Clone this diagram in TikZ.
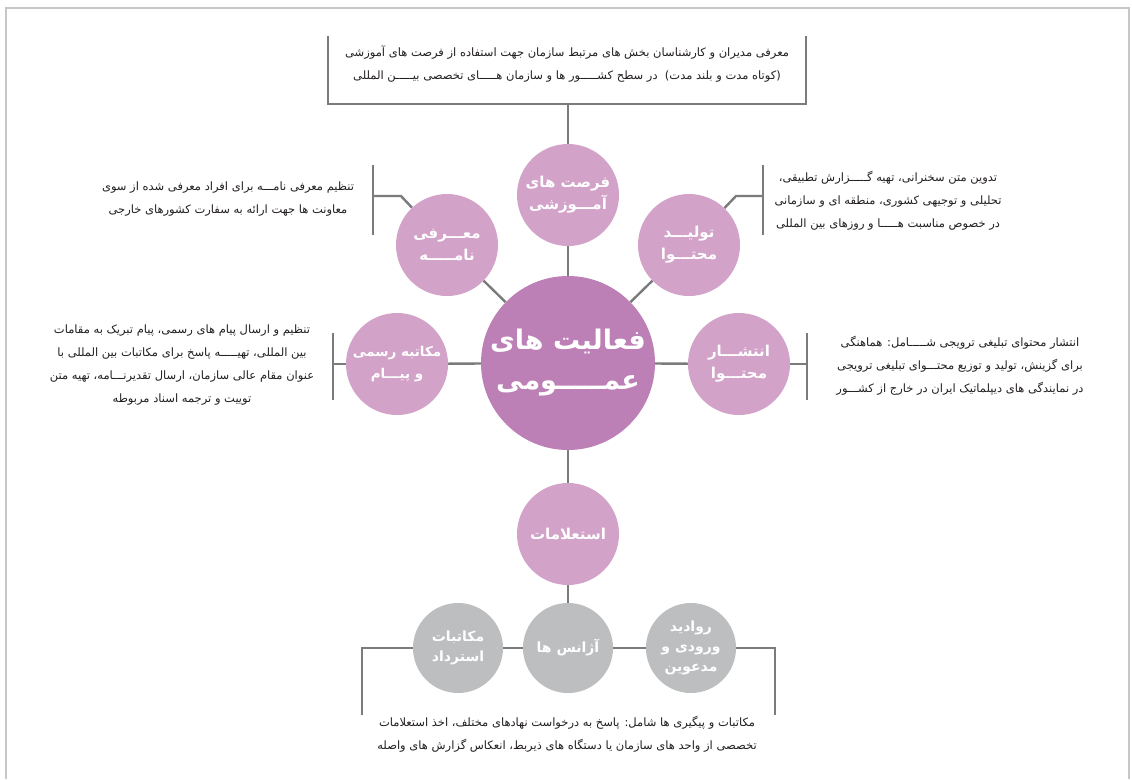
\documentclass[tikz,border=0pt]{standalone}
\usepackage{fontspec}
\newfontfamily\arabicfont[Script=Arabic]{DejaVu Sans}
\TeXXeTstate=1
\newcommand{\fa}[1]{{\arabicfont\beginR #1\endR}}

\definecolor{hubpink}{HTML}{BC80B6}
\definecolor{subpink}{HTML}{D3A2C9}
\definecolor{discgrey}{HTML}{BDBEC0}
\definecolor{linkgrey}{HTML}{7B7B7B}
\definecolor{framegrey}{HTML}{C6C6C6}
\definecolor{ink}{HTML}{231F20}

\tikzset{
  disc/.style={circle, inner sep=0pt, text=white, align=center},
  hubdisc/.style={disc, fill=hubpink, minimum size=174pt, font=\fontsize{27}{40}\selectfont\bfseries},
  subdisc/.style={disc, fill=subpink, minimum size=102pt, font=\fontsize{15}{22}\selectfont\bfseries},
  graydisc/.style={disc, fill=discgrey, minimum size=90pt, font=\fontsize{14}{20}\selectfont\bfseries},
  link/.style={draw=linkgrey, line width=2.4pt},
  note/.style={text=ink, align=center, inner sep=0pt, font=\fontsize{11.5}{23}\selectfont},
}

\begin{document}
\begin{tikzpicture}[x=1pt,y=-1pt]
  \useasboundingbox (0,0) rectangle (1132,779);
  % frame
  \draw[framegrey, line width=2pt] (6,779) -- (6,8) -- (1129,8) -- (1129,779);

  % discs
  \node[hubdisc] (hub) at (568,363) {\fa{فعالیت های}\\\fa{عمـــــومی}};
  \node[subdisc] (edu) at (568,195) {\fa{فرصت های}\\\fa{آمـــوزشی}};
  \node[subdisc] (intro) at (447,245) {\fa{معـــرفی}\\\fa{نامـــــه}};
  \node[subdisc] (prod) at (689,245) {\fa{تولیـــد}\\\fa{محتـــوا}};
  \node[subdisc, font=\fontsize{13.5}{22}\selectfont\bfseries] (letter) at (397,364) {\fa{مکاتبه رسمی}\\\fa{و پیـــام}};
  \node[subdisc] (publ) at (739,364) {\fa{انتشـــار}\\\fa{محتـــوا}};
  \node[subdisc] (inq) at (568,534) {\fa{استعلامات}};
  \node[graydisc] (refund) at (458,648) {\fa{مکاتبات}\\\fa{استرداد}};
  \node[graydisc] (agency) at (568,648) {\fa{آژانس ها}};
  \node[graydisc] (visa) at (691,648) {\fa{روادید}\\\fa{ورودی و}\\\fa{مدعوین}};

  % bracket ends
  \coordinate (eduL) at (328,36);
  \coordinate (eduBL) at (328,104);
  \coordinate (eduBR) at (806,104);
  \coordinate (eduR) at (806,36);
  \coordinate (eduM) at (568,104);
  \coordinate (introT) at (373,165);
  \coordinate (introB) at (373,235);
  \coordinate (introM) at (373,196);
  \coordinate (introK) at (401,196);
  \coordinate (prodT) at (763,165);
  \coordinate (prodB) at (763,235);
  \coordinate (prodM) at (763,196);
  \coordinate (prodK) at (736,196);
  \coordinate (letterT) at (333,333);
  \coordinate (letterB) at (333,400);
  \coordinate (letterM) at (333,364);
  \coordinate (publT) at (807,333);
  \coordinate (publB) at (807,400);
  \coordinate (publM) at (807,364);
  \coordinate (rowL) at (362,648);
  \coordinate (rowLB) at (362,715);
  \coordinate (rowR) at (775,648);
  \coordinate (rowRB) at (775,715);

  % connectors
  \draw[link] (eduL) -- (eduBL) -- (eduBR) -- (eduR);
  \draw[link] (eduM) -- (edu);
  \draw[link] (edu) -- (hub);
  \draw[link] (introT) -- (introB);
  \draw[link] (introM) -- (introK) -- (intro);
  \draw[link] (intro) -- (hub);
  \draw[link] (prodT) -- (prodB);
  \draw[link] (prodM) -- (prodK) -- (prod);
  \draw[link] (prod) -- (hub);
  \draw[link] (letterT) -- (letterB);
  \draw[link] (letterM) -- (letter);
  \draw[link] (letter) -- (hub);
  \draw[link] (publT) -- (publB);
  \draw[link] (publM) -- (publ);
  \draw[link] (publ) -- (hub);
  \draw[link] (hub) -- (inq);
  \draw[link] (inq) -- (agency);
  \draw[link] (rowLB) -- (rowL) -- (refund);
  \draw[link] (refund) -- (agency);
  \draw[link] (agency) -- (visa);
  \draw[link] (visa) -- (rowR) -- (rowRB);

  % notes
  \node[note] (eduText) at (567,64) {\fa{معرفی مدیران و کارشناسان بخش های مرتبط سازمان جهت استفاده از فرصت های آموزشی}\\
    \fa{(کوتاه مدت و بلند مدت)\ \ در سطح کشـــــور ها و سازمان هـــــای تخصصی بیـــــن المللی}};
  \node[note] (introText) at (228,199) {\fa{تنظیم معرفی نامـــه برای افراد معرفی شده از سوی}\\
    \fa{معاونت ها جهت ارائه به سفارت کشورهای خارجی}};
  \node[note] (prodText) at (888,201) {\fa{تدوین متن سخنرانی، تهیه گـــــزارش تطبیقی،}\\
    \fa{تحلیلی و توجیهی کشوری، منطقه ای و سازمانی}\\
    \fa{در خصوص مناسبت هـــــا و روزهای بین المللی}};
  \node[note] (letterText) at (182,365) {\fa{تنظیم و ارسال پیام های رسمی، پیام تبریک به مقامات}\\
    \fa{بین المللی، تهیـــــه پاسخ برای مکاتبات بین المللی با}\\
    \fa{عنوان مقام عالی سازمان، ارسال تقدیرنـــامه، تهیه متن}\\
    \fa{توییت و ترجمه اسناد مربوطه}};
  \node[note] (publText) at (960,366) {\fa{انتشار محتوای تبلیغی ترویجی شـــــامل: هماهنگی}\\
    \fa{برای گزینش، تولید و توزیع محتـــوای تبلیغی ترویجی}\\
    \fa{در نمایندگی های دیپلماتیک ایران در خارج از کشـــور}};
  \node[note] (inqText) at (567,734) {\fa{مکاتبات و پیگیری ها شامل: پاسخ به درخواست نهادهای مختلف، اخذ استعلامات}\\
    \fa{تخصصی از واحد های سازمان یا دستگاه های ذیربط، انعکاس گزارش های واصله}};
\end{tikzpicture}
\end{document}
